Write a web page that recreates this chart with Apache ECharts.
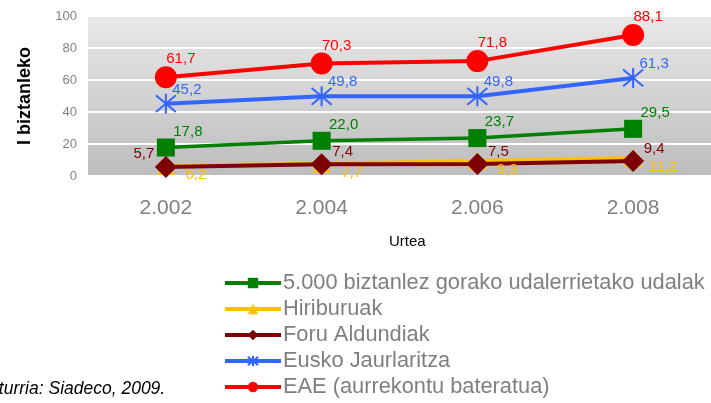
<!DOCTYPE html>
<html><head><meta charset="utf-8">
<script src="https://cdn.jsdelivr.net/npm/echarts@6/dist/echarts.min.js"></script>
<style>html,body{margin:0;padding:0;background:#fff}#c{width:711px;height:403px}</style>
</head><body><div id="c"></div>
<script>
const years = ['2.002', '2.004', '2.006', '2.008'];
const udalak = [17.8, 22.0, 23.7, 29.5];
const hiriburuak = [6.2, 7.7, 9.3, 11.2];
const foru = [5.7, 7.4, 7.5, 9.4];
const eusko = [45.2, 49.8, 49.8, 61.3];
const eae = [61.7, 70.3, 71.8, 88.1];
const names = ['5.000 biztanlez gorako udalerrietako udalak', 'Hiriburuak', 'Foru Aldundiak', 'Eusko Jaurlaritza', 'EAE (aurrekontu bateratua)'];

const FONT = '"Liberation Sans", Arial, sans-serif';
const fmt = p => p.value.toFixed(1).replace('.', ',');
const asterisk = 'path://M0,0L20,20M20,0L0,20M10,-2L10,22';

function mkSeries(name, data, color, symbol, size, off, extra) {
  return Object.assign({
    name, type: 'line', data, symbol, symbolSize: size,
    lineStyle: { color, width: 4 },
    itemStyle: { color },
    label: { show: true, position: 'inside', offset: off, formatter: fmt, color, fontSize: 15, fontFamily: FONT },
    z: 2
  }, extra || {});
}

const chart = echarts.init(document.getElementById('c'), null, { renderer: 'canvas' });
chart.setOption({
  animation: false,
  grid: { left: 88, right: -21, top: 16, bottom: 227,
    show: true, borderWidth: 0,
    backgroundColor: new echarts.graphic.LinearGradient(0, 0, 0, 1, [
      { offset: 0, color: '#e8e8e8' }, { offset: 1, color: '#bdbdbd' }]) },
  xAxis: {
    type: 'category', data: years, boundaryGap: true,
    axisLine: { show: false }, axisTick: { show: false },
    axisLabel: { color: '#808080', fontSize: 21, margin: 22, fontFamily: FONT }
  },
  yAxis: {
    type: 'value', min: 0, max: 100, interval: 20,
    name: 'I biztanleko', nameLocation: 'middle', nameGap: 54, nameRotate: 90,
    nameTextStyle: { color: '#000', fontSize: 18, fontWeight: 'bold', fontFamily: FONT },
    axisLine: { show: false }, axisTick: { show: false },
    axisLabel: { color: '#808080', fontSize: 13, margin: 11, fontFamily: FONT },
    splitLine: { show: true, lineStyle: { color: '#ffffff', width: 2 } }
  },
  legend: {
    orient: 'vertical', left: 223, top: 270, itemGap: 0, padding: 0,
    itemWidth: 56, itemHeight: 13,
    lineStyle: { width: 4 },
    textStyle: { color: '#7f7f7f', fontSize: 21.8, lineHeight: 26, fontFamily: FONT, padding: [0, 0, 0, -3] },
    data: names
  },
  graphic: [
    { type: 'text', left: 389, top: 234, style: { text: 'Urtea', fill: '#000', fontSize: 15, fontFamily: FONT } },
    { type: 'text', left: -6, top: 380, style: { text: 'Iturria: Siadeco, 2009.', fill: '#000', fontSize: 17.5, fontStyle: 'italic', fontFamily: FONT } }
  ],
  series: [
    mkSeries(names[0], udalak, '#008000', 'rect', 18, [22, -16], { lineStyle: { color: '#008000', width: 3.5 } }),
    mkSeries(names[1], hiriburuak, '#ffc000', 'triangle', 18, [30, 9]),
    mkSeries(names[2], foru.map((v, i) => i === 0 ? { value: v, label: { offset: [-22, -13] } } : v), '#7f0000', 'diamond', 22, [21, -12]),
    mkSeries(names[3], eusko, '#3366ff', asterisk, 20, [21, -14], { itemStyle: { color: '#3366ff', borderColor: '#3366ff', borderWidth: 2 } }),
    mkSeries(names[4], eae, '#ff0000', 'circle', 22, [15, -18])
  ]
});
</script></body></html>
